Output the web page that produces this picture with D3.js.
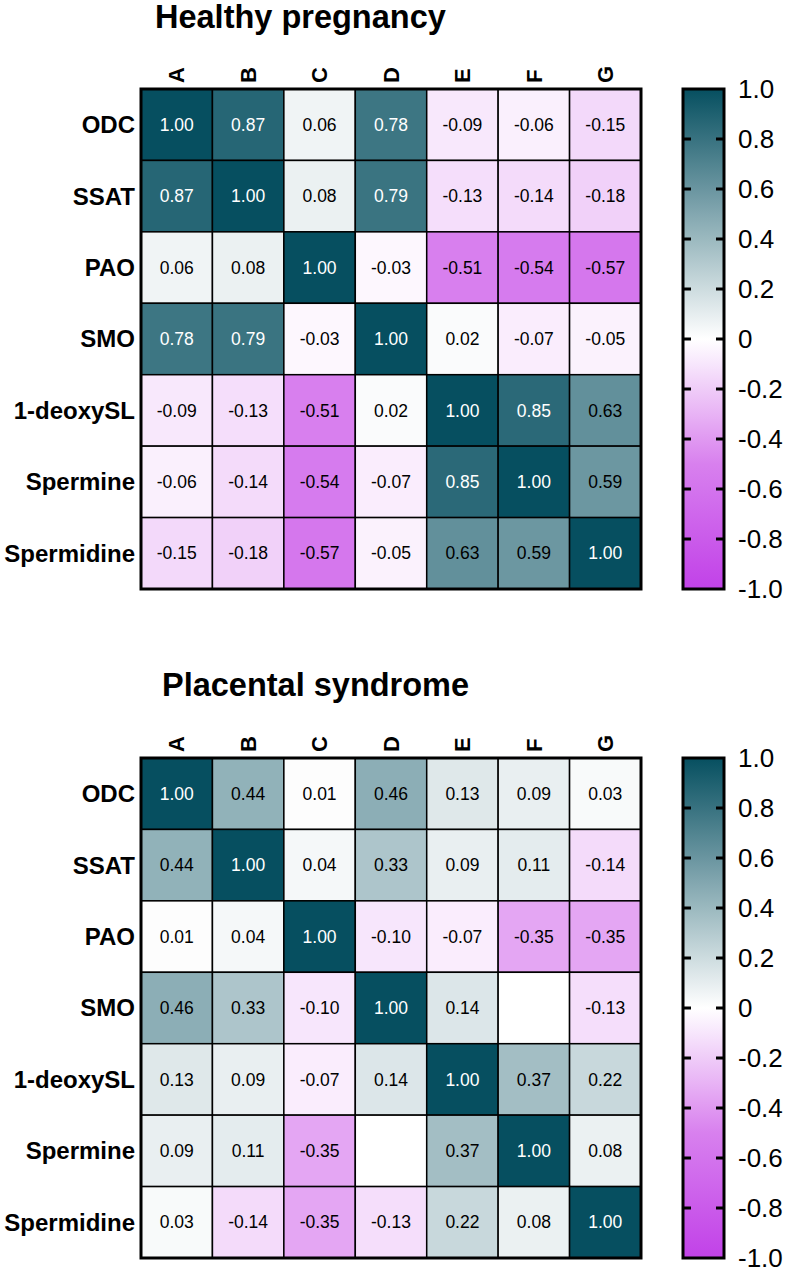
<!DOCTYPE html>
<html>
<head>
<meta charset="utf-8">
<script src="https://cdn.jsdelivr.net/npm/d3@7"></script>
<style>
  body { margin: 0; background: #fff; }
  text { font-family: Arial, "Liberation Sans", sans-serif; }
</style>
</head>
<body>
<div id="chart"></div>
<script>
// Data
var row_labels = ['ODC', 'SSAT', 'PAO', 'SMO', '1-deoxySL', 'Spermine', 'Spermidine'];
var col_labels = ['A', 'B', 'C', 'D', 'E', 'F', 'G'];

var healthy_values = [
    [1.00, 0.87, 0.06, 0.78, -0.09, -0.06, -0.15],
    [0.87, 1.00, 0.08, 0.79, -0.13, -0.14, -0.18],
    [0.06, 0.08, 1.00, -0.03, -0.51, -0.54, -0.57],
    [0.78, 0.79, -0.03, 1.00, 0.02, -0.07, -0.05],
    [-0.09, -0.13, -0.51, 0.02, 1.00, 0.85, 0.63],
    [-0.06, -0.14, -0.54, -0.07, 0.85, 1.00, 0.59],
    [-0.15, -0.18, -0.57, -0.05, 0.63, 0.59, 1.00]
];

// null = empty cell
var placental_values = [
    [1.00, 0.44, 0.01, 0.46, 0.13, 0.09, 0.03],
    [0.44, 1.00, 0.04, 0.33, 0.09, 0.11, -0.14],
    [0.01, 0.04, 1.00, -0.10, -0.07, -0.35, -0.35],
    [0.46, 0.33, -0.10, 1.00, 0.14, null, -0.13],
    [0.13, 0.09, -0.07, 0.14, 1.00, 0.37, 0.22],
    [0.09, 0.11, -0.35, null, 0.37, 1.00, 0.08],
    [0.03, -0.14, -0.35, -0.13, 0.22, 0.08, 1.00]
];

var bar_ticks = [1, 0.8, 0.6, 0.4, 0.2, 0, -0.2, -0.4, -0.6, -0.8, -1];
var bar_tick_labels = ['1.0', '0.8', '0.6', '0.4', '0.2', '0', '-0.2', '-0.4', '-0.6', '-0.8', '-1.0'];

// Layout
var chart_width = 789;
var chart_height = 1269;
var grid_left = 141;
var grid_size = 500;
var bar_left = 683;
var bar_width = 41;

var svg = d3.select('#chart')
    .append('svg')
    .attr('width', chart_width)
    .attr('height', chart_height);

var color_scale = d3.scaleLinear()
    .domain([-1, -0.5, 0, 1])
    .range(['#c142e8', '#d880ee', '#ffffff', '#064f60']);

// gradient for the colour bar
var grad = svg.append('defs')
    .append('linearGradient')
    .attr('id', 'bar-grad')
    .attr('x1', 0).attr('y1', 1)
    .attr('x2', 0).attr('y2', 0);
grad.selectAll('stop')
    .data(d3.range(-1, 1.0001, 0.1))
    .enter()
    .append('stop')
    .attr('offset', function(d) { return (d + 1) / 2; })
    .attr('stop-color', function(d) { return color_scale(d); });

function drawPanel(title, title_x, title_y, values, top) {
    var g = svg.append('g');

    var x_scale = d3.scaleBand()
        .domain(col_labels)
        .range([grid_left, grid_left + grid_size]);

    var y_scale = d3.scaleBand()
        .domain(row_labels)
        .range([top, top + grid_size]);

    g.append('text')
        .text(title)
        .attr('x', title_x)
        .attr('y', title_y)
        .attr('font-size', 32.5)
        .attr('font-weight', 'bold');

    var cells = [];
    values.forEach(function(row, i) {
        row.forEach(function(v, j) {
            cells.push({ row: row_labels[i], col: col_labels[j], value: v });
        });
    });

    g.selectAll('rect.cell')
        .data(cells)
        .enter()
        .append('rect')
        .attr('class', 'cell')
        .attr('x', function(d) { return x_scale(d.col); })
        .attr('y', function(d) { return y_scale(d.row); })
        .attr('width', x_scale.bandwidth())
        .attr('height', y_scale.bandwidth())
        .attr('fill', function(d) { return d.value === null ? '#ffffff' : color_scale(d.value); })
        .attr('stroke', '#000')
        .attr('stroke-width', 1.5);

    g.selectAll('text.val')
        .data(cells.filter(function(d) { return d.value !== null; }))
        .enter()
        .append('text')
        .attr('class', 'val')
        .text(function(d) { return d.value.toFixed(2); })
        .attr('x', function(d) { return x_scale(d.col) + x_scale.bandwidth() / 2; })
        .attr('y', function(d) { return y_scale(d.row) + y_scale.bandwidth() / 2; })
        .attr('dy', '0.35em')
        .attr('text-anchor', 'middle')
        .attr('font-size', 17.5)
        .attr('fill', function(d) { return d.value >= 0.75 ? '#ffffff' : '#000000'; });

    g.append('rect')
        .attr('x', grid_left)
        .attr('y', top)
        .attr('width', grid_size)
        .attr('height', grid_size)
        .attr('fill', 'none')
        .attr('stroke', '#000')
        .attr('stroke-width', 3);

    // row labels
    g.selectAll('text.row')
        .data(row_labels)
        .enter()
        .append('text')
        .attr('class', 'row')
        .text(function(d) { return d; })
        .attr('x', grid_left - 6)
        .attr('y', function(d) { return y_scale(d) + y_scale.bandwidth() / 2; })
        .attr('dy', '0.35em')
        .attr('text-anchor', 'end')
        .attr('font-size', 24)
        .attr('font-weight', 'bold');

    // column labels, rotated
    g.selectAll('text.col')
        .data(col_labels)
        .enter()
        .append('text')
        .attr('class', 'col')
        .text(function(d) { return d; })
        .attr('transform', function(d) {
            return 'translate(' + (x_scale(d) + x_scale.bandwidth() / 2) + ',' + (top - 6) + ') rotate(-90)';
        })
        .attr('dy', '0.35em')
        .attr('font-size', 22)
        .attr('font-weight', 'bold');

    // colour bar
    var bar_scale = d3.scaleLinear()
        .domain([-1, 1])
        .range([top + grid_size, top]);

    g.append('rect')
        .attr('x', bar_left)
        .attr('y', top)
        .attr('width', bar_width)
        .attr('height', grid_size)
        .attr('fill', 'url(#bar-grad)')
        .attr('stroke', '#000')
        .attr('stroke-width', 3);

    var inner = bar_ticks.filter(function(d) { return d !== 1 && d !== -1; });
    g.selectAll('line.tl')
        .data(inner)
        .enter()
        .append('line')
        .attr('x1', bar_left)
        .attr('x2', bar_left + 8)
        .attr('y1', function(d) { return bar_scale(d); })
        .attr('y2', function(d) { return bar_scale(d); })
        .attr('stroke', '#000')
        .attr('stroke-width', 3);
    g.selectAll('line.tr')
        .data(inner)
        .enter()
        .append('line')
        .attr('x1', bar_left + bar_width - 8)
        .attr('x2', bar_left + bar_width)
        .attr('y1', function(d) { return bar_scale(d); })
        .attr('y2', function(d) { return bar_scale(d); })
        .attr('stroke', '#000')
        .attr('stroke-width', 3);

    g.selectAll('text.tick')
        .data(bar_ticks)
        .enter()
        .append('text')
        .attr('class', 'tick')
        .text(function(d, i) { return bar_tick_labels[i]; })
        .attr('x', bar_left + bar_width + 14)
        .attr('y', function(d) { return bar_scale(d); })
        .attr('dy', '0.35em')
        .attr('font-size', 26);
}

drawPanel('Healthy pregnancy', 155, 28, healthy_values, 89);
drawPanel('Placental syndrome', 162, 696, placental_values, 758);
</script>
</body>
</html>
